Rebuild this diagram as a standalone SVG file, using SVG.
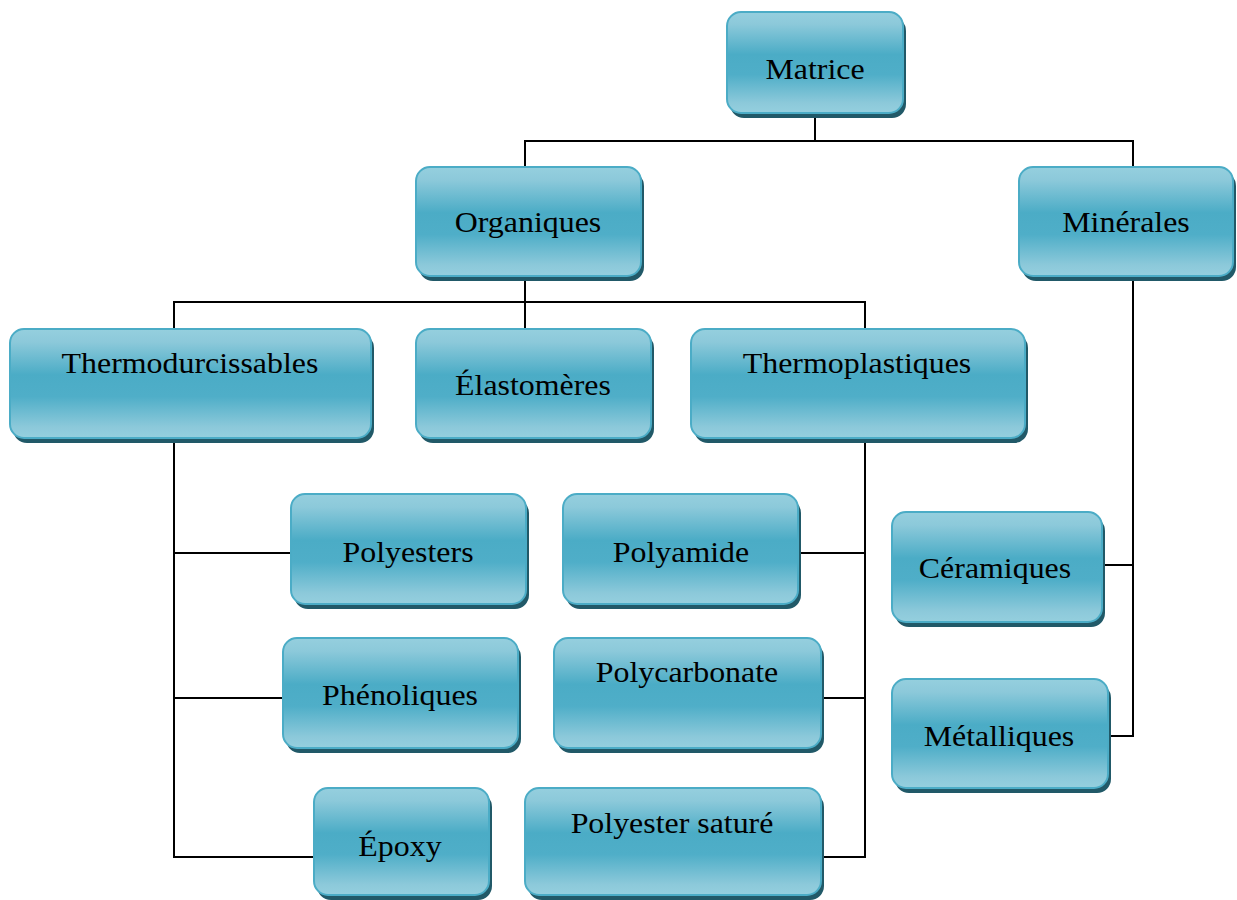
<svg xmlns="http://www.w3.org/2000/svg" width="1237" height="900" viewBox="0 0 1237 900">
<defs>
<linearGradient id="g" x1="0" y1="0" x2="0" y2="1">
<stop offset="0" stop-color="#95CFDE"/>
<stop offset="0.12" stop-color="#8CC9DA"/>
<stop offset="0.42" stop-color="#4BACC6"/>
<stop offset="0.62" stop-color="#4FAEC8"/>
<stop offset="0.9" stop-color="#8CC9DA"/>
<stop offset="1" stop-color="#95CFDE"/>
</linearGradient>
<style>
.sh{fill:#215968}
.bx{fill:url(#g);stroke:#4BACC6;stroke-width:2}
.t{font-family:"Liberation Serif","Times New Roman",serif;font-size:29px;fill:#000;text-anchor:middle}
.c line,.c polyline{stroke:#000;stroke-width:2;fill:none}
</style>
</defs>
<rect width="1237" height="900" fill="#fff"/>
<g class="c" id="connectors">
<line x1="815" y1="113" x2="815" y2="142"/>
<polyline points="525,167 525,141 1133,141 1133,167"/>
<line x1="525" y1="276" x2="525" y2="329"/>
<polyline points="174,329 174,302 865,302 865,329"/>
<polyline points="174,438 174,857 314,857"/>
<line x1="174" y1="553" x2="291" y2="553"/>
<line x1="174" y1="698" x2="283" y2="698"/>
<polyline points="865,438 865,857 821,857"/>
<line x1="798" y1="553" x2="865" y2="553"/>
<line x1="821" y1="698" x2="865" y2="698"/>
<polyline points="1133,276 1133,736 1108,736"/>
<line x1="1102" y1="565" x2="1133" y2="565"/>
</g>
<g id="matrice"><rect class="sh" x="730" y="17" width="176" height="101" rx="14"/><rect class="bx" x="727" y="12" width="176" height="101" rx="14"/><text class="t" transform="translate(815 79) scale(1.1 1)">Matrice</text></g>
<g id="organiques"><rect class="sh" x="419" y="172" width="225" height="109" rx="14"/><rect class="bx" x="416" y="167" width="225" height="109" rx="14"/><text class="t" transform="translate(528 232) scale(1.1 1)">Organiques</text></g>
<g id="minerales"><rect class="sh" x="1022" y="172" width="214" height="109" rx="14"/><rect class="bx" x="1019" y="167" width="214" height="109" rx="14"/><text class="t" transform="translate(1126 232) scale(1.1 1)">Minérales</text></g>
<g id="thermodurcissables"><rect class="sh" x="13" y="334" width="361" height="109" rx="14"/><rect class="bx" x="10" y="329" width="361" height="109" rx="14"/><text class="t" transform="translate(190 373) scale(1.1 1)">Thermodurcissables</text></g>
<g id="elastomeres"><rect class="sh" x="419" y="334" width="235" height="109" rx="14"/><rect class="bx" x="416" y="329" width="235" height="109" rx="14"/><text class="t" transform="translate(533 395) scale(1.1 1)">Élastomères</text></g>
<g id="thermoplastiques"><rect class="sh" x="694" y="334" width="334" height="109" rx="14"/><rect class="bx" x="691" y="329" width="334" height="109" rx="14"/><text class="t" transform="translate(857 373) scale(1.1 1)">Thermoplastiques</text></g>
<g id="polyesters"><rect class="sh" x="294" y="499" width="235" height="110" rx="14"/><rect class="bx" x="291" y="494" width="235" height="110" rx="14"/><text class="t" transform="translate(408 562) scale(1.1 1)">Polyesters</text></g>
<g id="polyamide"><rect class="sh" x="566" y="499" width="235" height="110" rx="14"/><rect class="bx" x="563" y="494" width="235" height="110" rx="14"/><text class="t" transform="translate(681 562) scale(1.1 1)">Polyamide</text></g>
<g id="ceramiques"><rect class="sh" x="895" y="517" width="210" height="110" rx="14"/><rect class="bx" x="892" y="512" width="210" height="110" rx="14"/><text class="t" transform="translate(995 578) scale(1.1 1)">Céramiques</text></g>
<g id="phenoliques"><rect class="sh" x="286" y="643" width="235" height="110" rx="14"/><rect class="bx" x="283" y="638" width="235" height="110" rx="14"/><text class="t" transform="translate(400 705) scale(1.1 1)">Phénoliques</text></g>
<g id="polycarbonate"><rect class="sh" x="557" y="643" width="267" height="110" rx="14"/><rect class="bx" x="554" y="638" width="267" height="110" rx="14"/><text class="t" transform="translate(687 682) scale(1.1 1)">Polycarbonate</text></g>
<g id="metalliques"><rect class="sh" x="895" y="684" width="216" height="109" rx="14"/><rect class="bx" x="892" y="679" width="216" height="109" rx="14"/><text class="t" transform="translate(999 746) scale(1.1 1)">Métalliques</text></g>
<g id="epoxy"><rect class="sh" x="317" y="793" width="175" height="107" rx="14"/><rect class="bx" x="314" y="788" width="175" height="107" rx="14"/><text class="t" transform="translate(400 856) scale(1.1 1)">Époxy</text></g>
<g id="polyester-sature"><rect class="sh" x="528" y="793" width="296" height="107" rx="14"/><rect class="bx" x="525" y="788" width="296" height="107" rx="14"/><text class="t" transform="translate(672 833) scale(1.1 1)">Polyester saturé</text></g>
</svg>
